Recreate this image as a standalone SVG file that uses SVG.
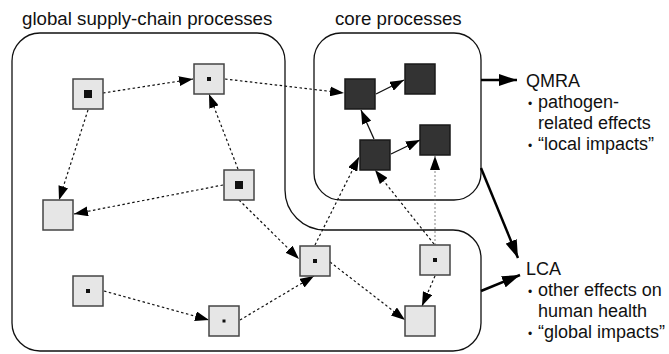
<svg xmlns="http://www.w3.org/2000/svg" width="669" height="354" viewBox="0 0 669 354">
<defs>
<style>
.t{font-family:"Liberation Sans",Arial,Helvetica,sans-serif;font-size:18px;fill:#111}
.h{font-size:18.7px}
.b{font-size:12px}
.region{fill:none;stroke:#111;stroke-width:1.3}
.n{fill:#e6e6e6;stroke:#444;stroke-width:1.5}
.c{fill:#333;stroke:#1a1a1a;stroke-width:1.5}
.d{fill:#111}
.dot{fill:none;stroke:#111;stroke-width:1.2;stroke-dasharray:2.5 2.5}
.thin{fill:none;stroke:#666;stroke-width:0.8;stroke-dasharray:2 2}
.sol{fill:none;stroke:#111;stroke-width:1.3}
.thick{fill:none;stroke:#000;stroke-width:2.5}
</style>
<marker id="ah" markerUnits="userSpaceOnUse" markerWidth="14" markerHeight="10" viewBox="0 0 14 10" refX="14" refY="5" orient="auto"><path d="M0,0 L14,5 L0,10 Z" fill="#000"/></marker>
<marker id="ahb" markerUnits="userSpaceOnUse" markerWidth="18" markerHeight="12" viewBox="0 0 18 12" refX="18" refY="6" orient="auto"><path d="M0,0 L18,6 L0,12 Z" fill="#000"/></marker>
</defs>

<g id="regions">
<path id="global-region" class="region" d="M40,33 H257 A28,28 0 0 1 285,61 V190 A40,40 0 0 0 325,230 H453 A28,28 0 0 1 481,258 V323 A28,28 0 0 1 453,351 H40 A28,28 0 0 1 12,323 V61 A28,28 0 0 1 40,33 Z"/>
<rect id="core-region" class="region" x="314" y="33" width="167" height="167" rx="27"/>
</g>

<g id="titles">
<text class="t h" x="22" y="25">global supply-chain processes</text>
<text class="t h" x="335" y="25">core processes</text>
</g>

<g id="connectors">
<line class="dot" x1="103" y1="93" x2="193" y2="79" marker-end="url(#ah)"/>
<line class="dot" x1="225" y1="79" x2="344" y2="93" marker-end="url(#ah)"/>
<line class="dot" x1="88" y1="110" x2="59" y2="200" marker-end="url(#ah)"/>
<line class="dot" x1="223" y1="185" x2="74" y2="214" marker-end="url(#ah)"/>
<line class="dot" x1="238" y1="169" x2="209" y2="94" marker-end="url(#ah)"/>
<line class="dot" x1="239" y1="200" x2="299" y2="259" marker-end="url(#ah)"/>
<line class="dot" x1="315" y1="245" x2="359" y2="157" marker-end="url(#ah)"/>
<line class="dot" x1="434" y1="244" x2="375" y2="170" marker-end="url(#ah)"/>
<line class="thin" x1="435" y1="245" x2="435" y2="156" marker-end="url(#ah)"/>
<line class="dot" x1="104" y1="291" x2="209" y2="320" marker-end="url(#ah)"/>
<line class="dot" x1="240" y1="320" x2="314" y2="276" marker-end="url(#ah)"/>
<line class="dot" x1="330" y1="262" x2="405" y2="320" marker-end="url(#ah)"/>
<line class="dot" x1="435" y1="276" x2="422" y2="306" marker-end="url(#ah)"/>
<line class="sol" x1="376" y1="94" x2="404" y2="80" marker-end="url(#ah)"/>
<line class="sol" x1="374" y1="139" x2="361" y2="110" marker-end="url(#ah)"/>
<line class="sol" x1="391" y1="154" x2="420" y2="140" marker-end="url(#ah)"/>
<line class="thick" x1="481" y1="80" x2="517" y2="80" marker-end="url(#ahb)"/>
<line class="thick" x1="481" y1="168" x2="518" y2="258" marker-end="url(#ahb)"/>
<line class="thick" x1="481" y1="291" x2="520" y2="275" marker-end="url(#ahb)"/>
</g>

<g id="n1"><rect class="n" x="73" y="79" width="30" height="30"/><rect class="d" x="84" y="90" width="8" height="8"/></g>
<g id="n2"><rect class="n" x="194" y="64" width="30" height="30"/><rect class="d" x="207" y="77" width="4" height="4"/></g>
<g id="n3"><rect class="n" x="43" y="200" width="30" height="30"/></g>
<g id="n4"><rect class="n" x="224" y="170" width="30" height="30"/><rect class="d" x="235" y="181" width="8" height="8"/></g>
<g id="n5"><rect class="n" x="300" y="246" width="30" height="30"/><rect class="d" x="313" y="259" width="4" height="4"/></g>
<g id="n6"><rect class="n" x="73" y="276" width="30" height="30"/><rect class="d" x="86" y="289" width="4" height="4"/></g>
<g id="n7"><rect class="n" x="209" y="306" width="30" height="30"/><rect class="d" x="222.5" y="319.5" width="3" height="3"/></g>
<g id="n8"><rect class="n" x="420" y="245" width="30" height="30"/><rect class="d" x="433" y="258" width="4" height="4"/></g>
<g id="n9"><rect class="n" x="405" y="306" width="30" height="30"/></g>
<g id="c1"><rect class="c" x="345" y="79" width="30" height="30"/></g>
<g id="c2"><rect class="c" x="405" y="64" width="30" height="30"/></g>
<g id="c3"><rect class="c" x="360" y="140" width="30" height="30"/></g>
<g id="c4"><rect class="c" x="420" y="125" width="30" height="30"/></g>

<g id="qmra">
<text class="t" x="526" y="87">QMRA</text>
<text class="t" x="528" y="108"><tspan class="b">•</tspan></text>
<text class="t" x="538" y="108">pathogen-</text>
<text class="t" x="538" y="129">related effects</text>
<text class="t" x="528" y="150"><tspan class="b">•</tspan></text>
<text class="t" x="538" y="150">“local impacts”</text>
</g>

<g id="lca">
<text class="t" x="526" y="275">LCA</text>
<text class="t" x="528" y="296"><tspan class="b">•</tspan></text>
<text class="t" x="538" y="296">other effects on</text>
<text class="t" x="538" y="317">human health</text>
<text class="t" x="528" y="338"><tspan class="b">•</tspan></text>
<text class="t" x="538" y="338">“global impacts”</text>
</g>
</svg>
